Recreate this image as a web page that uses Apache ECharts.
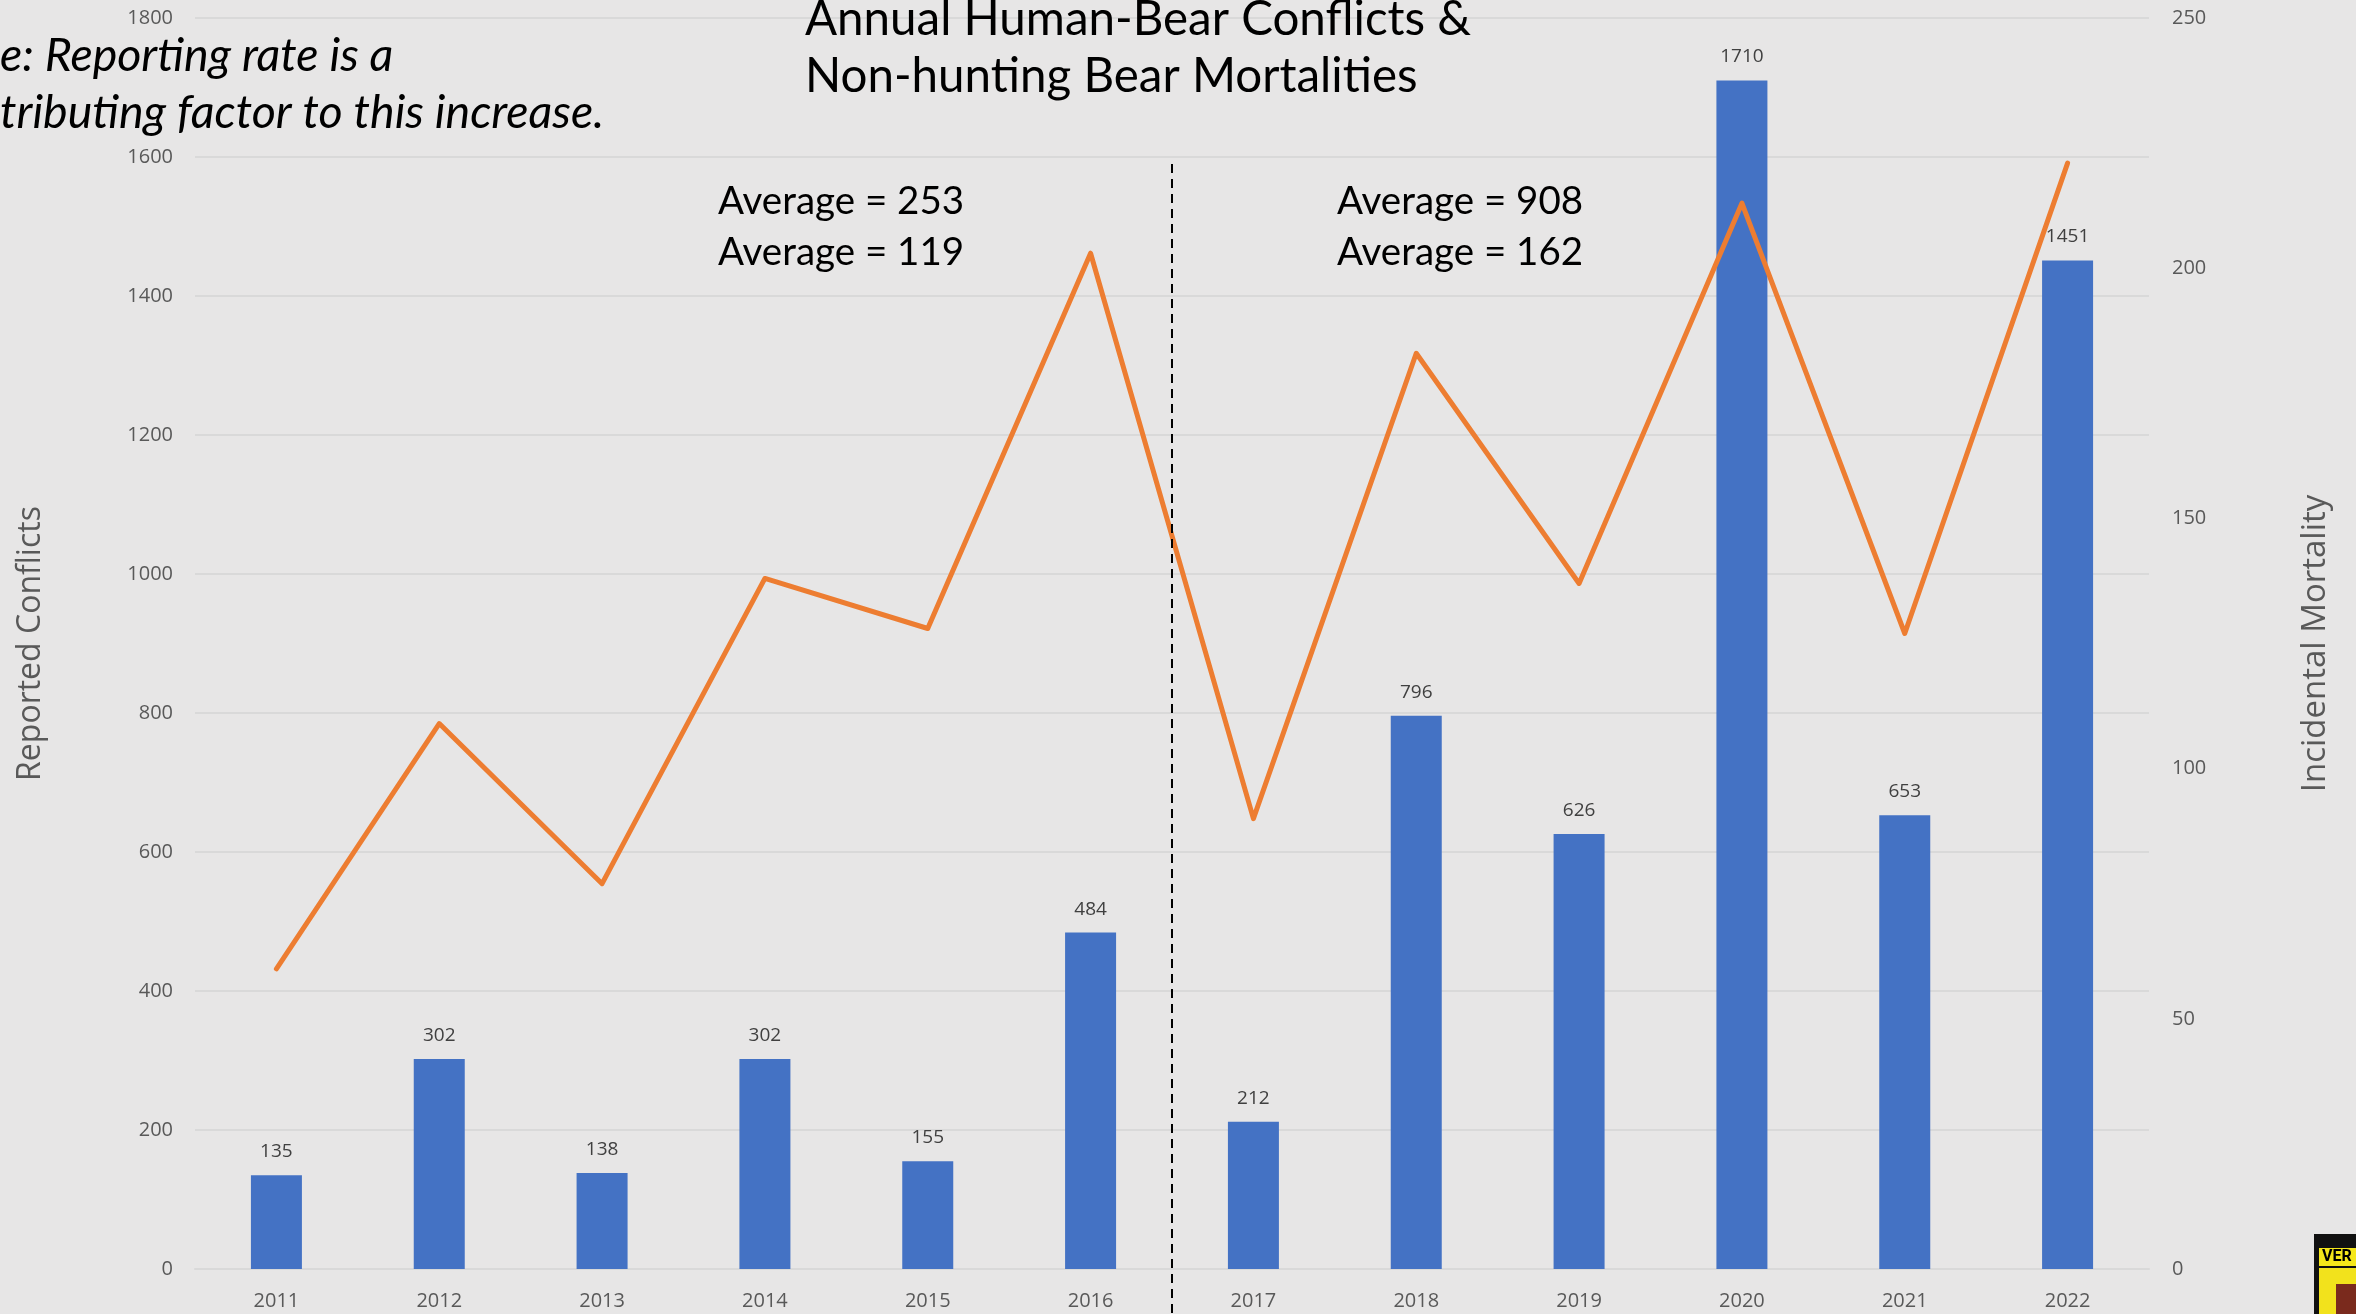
<!DOCTYPE html>
<html>
<head>
<meta charset="utf-8">
<script src="https://cdn.jsdelivr.net/npm/echarts@6/dist/echarts.min.js"></script>
<style>
html,body{margin:0;padding:0;background:#e7e6e6;}
#chart{width:2356px;height:1314px;}
</style>
</head>
<body>
<div id="chart"></div>
<script>
const years = ['2011','2012','2013','2014','2015','2016','2017','2018','2019','2020','2021','2022'];
const conflicts = [135, 302, 138, 302, 155, 484, 212, 796, 626, 1710, 653, 1451];
const mortality = [60, 109, 77, 138, 128, 203, 90, 183, 137, 213, 127, 221];
const leftTicks = {min: 0, max: 1800, interval: 200};
const rightTicks = {min: 0, max: 250, interval: 50};
const titleLines = ['Annual Human-Bear Conflicts &', 'Non-hunting Bear Mortalities'];
const noteLines = ['e: Reporting rate is a', 'tributing factor to this increase.'];
const avgBefore = ['Average = 253', 'Average = 119'];
const avgAfter = ['Average = 908', 'Average = 162'];
const splitBetween = ['2016', '2017'];
const splitTopValue = 1590;

const chart = echarts.init(document.getElementById('chart'), null, {renderer: 'canvas'});
const axisLabelColor = '#595959';
const option = {
  backgroundColor: '#e7e6e6',
  animation: false,
  grid: {left: 195, right: 207, top: 18, bottom: 45, containLabel: false},
  xAxis: {
    type: 'category',
    data: years,
    axisTick: {show: false},
    axisLine: {show: true, lineStyle: {color: '#d9d9d9', width: 2}},
    axisLabel: {color: axisLabelColor, fontSize: 20, fontFamily: 'Open Sans', margin: 22}
  },
  yAxis: [
    {
      type: 'value', min: leftTicks.min, max: leftTicks.max, interval: leftTicks.interval,
      name: 'Reported Conflicts', nameLocation: 'middle', nameRotate: 90, nameGap: 148,
      nameTextStyle: {color: axisLabelColor, fontSize: 32, fontFamily: 'Open Sans'},
      axisLine: {show: false}, axisTick: {show: false},
      axisLabel: {color: axisLabelColor, fontSize: 20, fontFamily: 'Open Sans', margin: 22, formatter: v => String(v)},
      splitLine: {lineStyle: {color: '#d9d9d9', width: 2}}
    },
    {
      type: 'value', min: rightTicks.min, max: rightTicks.max, interval: rightTicks.interval,
      name: 'Incidental Mortality', nameLocation: 'middle', nameRotate: 90, nameGap: 150,
      nameTextStyle: {color: axisLabelColor, fontSize: 33, fontFamily: 'Open Sans'},
      axisLine: {show: false}, axisTick: {show: false},
      axisLabel: {color: axisLabelColor, fontSize: 20, fontFamily: 'Open Sans', margin: 23, formatter: v => String(v)},
      splitLine: {show: false}
    }
  ],
  series: [
    {
      name: 'Reported Conflicts', type: 'bar', data: conflicts, barWidth: 51, yAxisIndex: 0,
      itemStyle: {color: '#4472c4'},
      label: {show: true, position: 'top', distance: 14, color: '#404040', fontSize: 19, fontFamily: 'Open Sans'}
    },
    {
      name: 'Incidental Mortality', type: 'line', data: mortality, yAxisIndex: 1,
      showSymbol: false, symbol: 'none',
      lineStyle: {color: '#ed7d31', width: 5, cap: 'round', join: 'round'}, z: 3
    }
  ],
  graphic: []
};
chart.setOption(option);

const x1 = chart.convertToPixel({xAxisIndex: 0}, splitBetween[0]);
const x2 = chart.convertToPixel({xAxisIndex: 0}, splitBetween[1]);
const xs = (x1 + x2) / 2;
const yTop = chart.convertToPixel({yAxisIndex: 0}, splitTopValue);
const H = chart.getHeight();

const textFont = 'Lato';
chart.setOption({
  graphic: [
    {type: 'line', shape: {x1: xs, y1: yTop, x2: xs, y2: H}, style: {stroke: '#000', lineWidth: 2, lineDash: [9, 6]}, z: 10},
    {type: 'text', left: 805, top: -9, style: {text: titleLines.join('\n'), font: '47.5px ' + textFont, fill: '#000', lineHeight: 57}, z: 10},
    {type: 'text', left: 0, top: 27, style: {text: noteLines.join('\n'), font: 'italic 46.5px ' + textFont, fill: '#000', lineHeight: 57}, z: 10},
    {type: 'text', left: 718, top: 176, style: {text: avgBefore.join('\n'), font: '38.5px ' + textFont, fill: '#000', lineHeight: 51}, z: 10},
    {type: 'text', left: 1337, top: 176, style: {text: avgAfter.join('\n'), font: '38.5px ' + textFont, fill: '#000', lineHeight: 51}, z: 10},
    {type: 'group', left: 2314, top: 1234, children: [
      {type: 'rect', shape: {x: 0, y: 0, width: 42, height: 80}, style: {fill: '#111'}},
      {type: 'rect', shape: {x: 5, y: 14, width: 37, height: 18}, style: {fill: '#f5e71a'}},
      {type: 'rect', shape: {x: 5, y: 34, width: 37, height: 46}, style: {fill: '#f2e21c'}},
      {type: 'rect', shape: {x: 22, y: 50, width: 20, height: 30}, style: {fill: '#7a2a1d'}},
      {type: 'text', style: {text: 'VER', x: 8, y: 15, font: 'bold 16px Roboto', fill: '#000'}}
    ]}
  ]
});
</script>
</body>
</html>
